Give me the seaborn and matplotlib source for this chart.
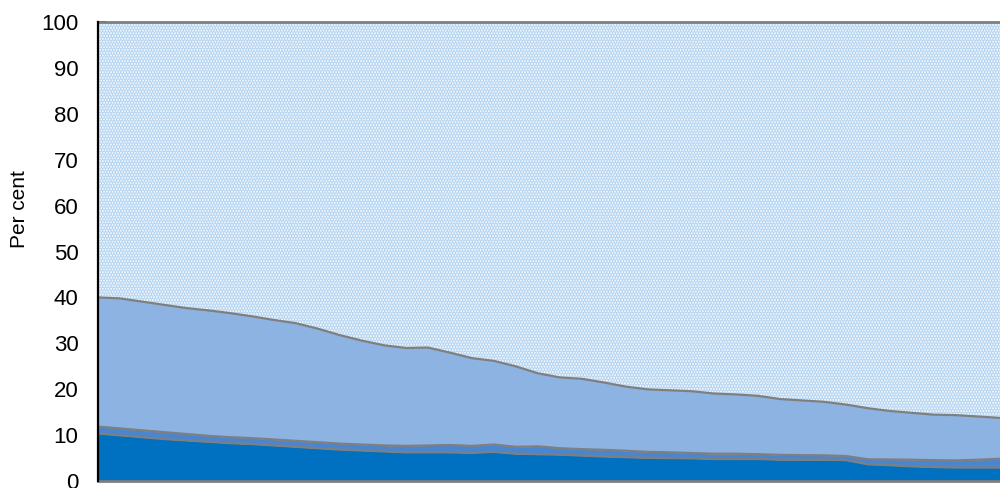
import numpy as np
import pandas as pd
import matplotlib
matplotlib.use("Agg")
import matplotlib.pyplot as plt
import seaborn as sns

# Data (cumulative levels, per cent)
period = list(range(42))
dark_layer = [10.4, 10.0, 9.6, 9.2, 8.9, 8.6, 8.3, 8.1, 7.8, 7.5,
              7.2, 6.9, 6.7, 6.5, 6.3, 6.3, 6.3, 6.2, 6.4, 6.0,
              5.9, 5.8, 5.6, 5.4, 5.25, 5.1, 5.05, 5.0, 4.85, 4.85,
              4.85, 4.7, 4.7, 4.7, 4.6, 3.7, 3.5, 3.25, 3.1, 3.0,
              3.0, 3.0]
mid_top = [11.9, 11.5, 11.1, 10.7, 10.3, 9.9, 9.6, 9.4, 9.1, 8.8,
           8.5, 8.2, 8.0, 7.8, 7.7, 7.8, 7.9, 7.7, 8.0, 7.5,
           7.6, 7.2, 7.0, 6.85, 6.65, 6.4, 6.3, 6.15, 6.0, 6.0,
           5.9, 5.75, 5.7, 5.65, 5.5, 4.8, 4.75, 4.7, 4.6, 4.55,
           4.7, 4.9]
light_top = [40.0, 39.8, 39.1, 38.4, 37.7, 37.2, 36.6, 35.9, 35.1, 34.4,
             33.2, 31.8, 30.6, 29.6, 29.0, 29.1, 28.0, 26.8, 26.2, 25.0,
             23.5, 22.6, 22.3, 21.5, 20.6, 20.0, 19.8, 19.6, 19.1, 18.9,
             18.6, 17.9, 17.6, 17.3, 16.7, 15.9, 15.3, 14.9, 14.5, 14.4,
             14.1, 13.8]
total_top = [100.0] * len(period)
yticks = list(range(0, 101, 10))

df = pd.DataFrame({"period": period, "dark": dark_layer, "mid": mid_top,
                   "light": light_top, "total": total_top})

sns.set_theme(style="white")
plt.rcParams["font.family"] = ["Liberation Sans", "DejaVu Sans"]
plt.rcParams["hatch.linewidth"] = 1.8

fig = plt.figure(figsize=(10, 4.88), dpi=100)
ax = fig.add_axes([0.098, 0.0137, 0.902, 0.9418])

zero = np.zeros(len(period))
ax.fill_between(df["period"], zero, df["dark"], facecolor="#0070C0", linewidth=0, zorder=1)
ax.fill_between(df["period"], df["dark"], df["mid"], facecolor="#4A86CF", linewidth=0, zorder=1)
ax.fill_between(df["period"], df["mid"], df["light"], facecolor="#8DB3E2", linewidth=0, zorder=1)
ax.fill_between(df["period"], df["light"], df["total"], facecolor="white",
                edgecolor="#ADD0F0", hatch="......", linewidth=0, zorder=1)

for col in ["dark", "mid", "light"]:
    sns.lineplot(data=df, x="period", y=col, ax=ax, color="#7F7F7F",
                 linewidth=1.6, zorder=3)

ax.set_xlim(period[0], period[-1])
ax.set_ylim(0, 100)
ax.set_yticks(yticks)
ax.set_yticklabels([str(t) for t in yticks], fontsize=16, color="black")
ax.set_xticks([])
ax.set_xlabel("")
ax.set_ylabel("Per cent", fontsize=15, color="black")
ax.yaxis.set_label_coords(-0.076, 0.593)
ax.tick_params(axis="y", direction="in", length=6, width=1.3, color="black",
               pad=14, left=True)

for s in ["top", "bottom"]:
    ax.spines[s].set_color("#7F7F7F")
    ax.spines[s].set_linewidth(2)
ax.spines["left"].set_color("black")
ax.spines["left"].set_linewidth(1.6)
ax.spines["right"].set_visible(False)
ax.spines["left"].set_zorder(5)

fig.savefig("out.png", dpi=100)
